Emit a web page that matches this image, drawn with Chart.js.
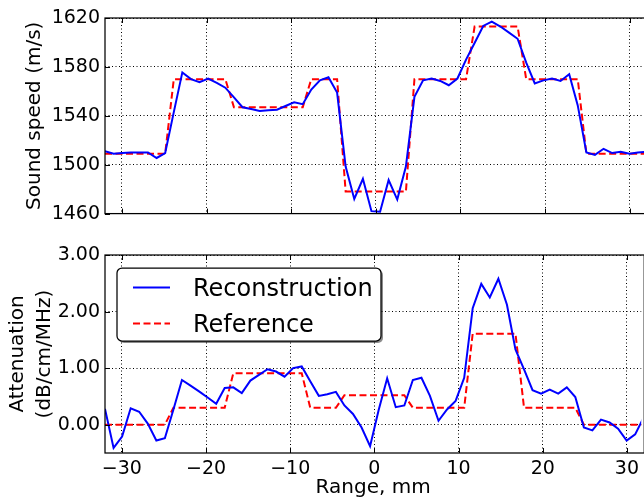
<!DOCTYPE html>
<html>
<head>
<title>Sound speed and attenuation</title>
<script src="https://cdn.jsdelivr.net/npm/chart.js"></script>
<style>
body { margin: 0; background: #fff; }
.panel { position: absolute; left: 0; }
#top { top: 0; }
#bottom { top: 230px; }
</style>
</head>
<body>
<div class="panel" id="top"><canvas id="speedChart" width="644" height="230"></canvas></div>
<div class="panel" id="bottom"><canvas id="attenChart" width="644" height="270"></canvas></div>

<script>
// range samples (mm), 64 points across the aperture
var rangeMm = [-32.00, -30.98, -29.97, -28.95, -27.94, -26.92, -25.90, -24.89,
    -23.87, -22.86, -21.84, -20.83, -19.81, -18.79, -17.78, -16.76,
    -15.75, -14.73, -13.71, -12.70, -11.68, -10.67, -9.65, -8.63,
    -7.62, -6.60, -5.59, -4.57, -3.56, -2.54, -1.52, -0.51,
    0.51, 1.52, 2.54, 3.56, 4.57, 5.59, 6.60, 7.62,
    8.63, 9.65, 10.67, 11.68, 12.70, 13.71, 14.73, 15.75,
    16.76, 17.78, 18.79, 19.81, 20.83, 21.84, 22.86, 23.87,
    24.89, 25.90, 26.92, 27.94, 28.95, 29.97, 30.98, 32.00];

var speedRecon = [1511, 1509, 1509.5, 1510, 1510, 1510, 1505.5, 1509.5,
    1543, 1575.5, 1570, 1567.5, 1570.5, 1567, 1563, 1555,
    1547, 1545.5, 1544, 1544.5, 1545, 1548, 1551, 1549.5,
    1561.5, 1569, 1571.5, 1559, 1498.5, 1472, 1488.5, 1462,
    1461.5, 1487.5, 1471.5, 1498.5, 1555.5, 1569, 1570.5, 1568.5,
    1565, 1570.5, 1586, 1599.5, 1613.5, 1617, 1613, 1608,
    1603, 1583.5, 1566.5, 1569, 1570.5, 1568.5, 1574, 1548.5,
    1510, 1508, 1513, 1509.5, 1510.5, 1509, 1510, 1510.5];

var speedRef = [1509, 1509, 1509, 1509, 1509, 1509, 1509, 1509,
    1570, 1570, 1570, 1570, 1570, 1570, 1570, 1547,
    1547, 1547, 1547, 1547, 1547, 1547, 1547, 1547,
    1570, 1570, 1570, 1570, 1478, 1478, 1478, 1478,
    1478, 1478, 1478, 1478, 1570, 1570, 1570, 1570,
    1570, 1570, 1570, 1613, 1613, 1613, 1613, 1613,
    1613, 1570, 1570, 1570, 1570, 1570, 1570, 1570,
    1509, 1509, 1509, 1509, 1509, 1509, 1509, 1509];

var attenRecon = [0.28, -0.41, -0.21, 0.29, 0.23, 0.02, -0.28, -0.24,
    0.27, 0.79, 0.69, 0.59, 0.48, 0.37, 0.65, 0.66,
    0.56, 0.78, 0.88, 0.98, 0.94, 0.85, 1.00, 1.03,
    0.77, 0.51, 0.54, 0.58, 0.34, 0.19, -0.05, -0.38,
    0.26, 0.82, 0.31, 0.34, 0.79, 0.83, 0.51, 0.07,
    0.27, 0.42, 0.83, 2.06, 2.49, 2.25, 2.58, 2.12,
    1.33, 0.98, 0.61, 0.55, 0.62, 0.55, 0.66, 0.49,
    -0.05, -0.10, 0.09, 0.04, -0.07, -0.28, -0.17, 0.13];

var attenRef = [0, 0, 0, 0, 0, 0, 0, 0,
    0.30, 0.30, 0.30, 0.30, 0.30, 0.30, 0.30, 0.91,
    0.91, 0.91, 0.91, 0.91, 0.91, 0.91, 0.91, 0.91,
    0.30, 0.30, 0.30, 0.30, 0.52, 0.52, 0.52, 0.52,
    0.52, 0.52, 0.52, 0.52, 0.30, 0.30, 0.30, 0.30,
    0.30, 0.30, 0.30, 1.61, 1.61, 1.61, 1.61, 1.61,
    1.61, 0.30, 0.30, 0.30, 0.30, 0.30, 0.30, 0.30,
    0, 0, 0, 0, 0, 0, 0, 0];

var xTicks = [-30, -20, -10, 0, 10, 20, 30];
var speedTicks = [1460, 1500, 1540, 1580, 1620];
var attenTicks = [0, 1, 2, 3];
var seriesNames = ['Reconstruction', 'Reference'];

var FONT = 'DejaVu Sans';

function points(ys) {
    return rangeMm.map(function (x, i) { return { x: x, y: ys[i] }; });
}

function minus(v) {
    return v < 0 ? '\u2212' + Math.abs(v) : String(v);
}

// black box round the plot plus inward tick marks, like matplotlib
var framePlugin = {
    id: 'frame',
    afterDatasetsDraw: function (chart) {
        var a = chart.chartArea, ctx = chart.ctx;
        var sx = chart.scales.x, sy = chart.scales.y;
        ctx.save();
        ctx.strokeStyle = '#000';
        ctx.lineWidth = 1;
        ctx.beginPath();
        sx.ticks.forEach(function (t) {
            var px = Math.round(sx.getPixelForValue(t.value)) + 0.5;
            ctx.moveTo(px, a.bottom); ctx.lineTo(px, a.bottom - 5);
            ctx.moveTo(px, a.top); ctx.lineTo(px, a.top + 5);
        });
        sy.ticks.forEach(function (t) {
            var py = Math.round(sy.getPixelForValue(t.value)) + 0.5;
            ctx.moveTo(a.left, py); ctx.lineTo(a.left + 5, py);
        });
        ctx.stroke();
        ctx.lineWidth = 1.25;
        ctx.strokeRect(a.left, a.top, a.right - a.left + 3, a.bottom - a.top);
        ctx.restore();
    }
};

var legendPlugin = {
    id: 'boxLegend',
    afterDraw: function (chart) {
        var ctx = chart.ctx;
        var l = 117, t = 38, w = 264, h = 73, r = 5;
        function box(x, y) {
            ctx.beginPath();
            ctx.roundRect(x, y, w, h, r);
        }
        ctx.save();
        box(l + 2, t + 2);
        ctx.fillStyle = 'rgba(0,0,0,0.45)';
        ctx.fill();
        box(l, t);
        ctx.fillStyle = '#fff';
        ctx.fill();
        ctx.lineWidth = 1.25;
        ctx.strokeStyle = '#000';
        ctx.stroke();

        ctx.lineWidth = 2;
        ctx.strokeStyle = '#0000ff';
        ctx.beginPath(); ctx.moveTo(133, 57.5); ctx.lineTo(170, 57.5); ctx.stroke();
        ctx.strokeStyle = '#ff0000';
        ctx.setLineDash([7, 3.5]);
        ctx.beginPath(); ctx.moveTo(133, 93.5); ctx.lineTo(170, 93.5); ctx.stroke();
        ctx.setLineDash([]);

        ctx.fillStyle = '#000';
        ctx.font = '24px "' + FONT + '"';
        ctx.textBaseline = 'alphabetic';
        ctx.fillText(seriesNames[0], 193, 66);
        ctx.fillText(seriesNames[1], 193, 101.5);
        ctx.restore();
    }
};

function makeOptions(cfg) {
    return {
        responsive: false,
        animation: false,
        layout: { padding: { top: cfg.padTop, left: 0, right: 0, bottom: 0 } },
        plugins: { legend: { display: false }, tooltip: { enabled: false } },
        scales: {
            x: {
                type: 'linear',
                min: -32,
                max: 31.7,
                afterBuildTicks: function (s) { s.ticks = xTicks.map(function (v) { return { value: v }; }); },
                afterFit: function (s) { s.height = cfg.xHeight; },
                grid: { color: '#000', lineWidth: 1, drawTicks: false },
                border: { display: false, dash: [1, 2.5] },
                ticks: {
                    display: cfg.showX,
                    padding: 5,
                    color: '#000',
                    font: { family: FONT, size: 19 },
                    callback: function (v) { return minus(v); }
                },
                title: {
                    display: cfg.showX,
                    text: 'Range, mm',
                    color: '#000',
                    font: { family: FONT, size: 20, lineHeight: 1.2 },
                    padding: { top: 0, bottom: 0 }
                }
            },
            y: {
                min: cfg.yMin,
                max: cfg.yMax,
                afterBuildTicks: function (s) { s.ticks = cfg.yTicks.map(function (v) { return { value: v }; }); },
                afterFit: function (s) { s.width = 105; },
                grid: { color: '#000', lineWidth: 1, drawTicks: false },
                border: { display: false, dash: [1, 2.5] },
                ticks: {
                    padding: 5,
                    color: '#000',
                    font: { family: FONT, size: 19 },
                    callback: cfg.yFormat
                },
                title: {
                    display: true,
                    text: cfg.yTitle,
                    color: '#000',
                    font: { family: FONT, size: 20, lineHeight: cfg.titleLine },
                    padding: { top: cfg.titlePad, bottom: 0 }
                }
            }
        }
    };
}

function datasets(recon, ref) {
    return [{
        label: seriesNames[0],
        data: points(recon),
        borderColor: '#0000ff',
        borderWidth: 2,
        pointRadius: 0,
        tension: 0
    }, {
        label: seriesNames[1],
        data: points(ref),
        borderColor: '#ff0000',
        borderWidth: 2,
        borderDash: [7, 3.5],
        pointRadius: 0,
        tension: 0
    }];
}

new Chart(document.getElementById('speedChart'), {
    type: 'line',
    data: { datasets: datasets(speedRecon, speedRef) },
    options: makeOptions({
        padTop: 18, xHeight: 14, showX: false,
        yMin: 1460, yMax: 1620, yTicks: speedTicks,
        yFormat: function (v) { return String(v); },
        yTitle: 'Sound speed (m/s)', titleLine: 1.2, titlePad: 23
    }),
    plugins: [framePlugin]
});

new Chart(document.getElementById('attenChart'), {
    type: 'line',
    data: { datasets: datasets(attenRecon, attenRef) },
    options: makeOptions({
        padTop: 25, xHeight: 47, showX: true,
        yMin: -0.5, yMax: 3, yTicks: attenTicks,
        yFormat: function (v) { return v.toFixed(2); },
        yTitle: ['Attenuation', '(dB/cm/MHz)'], titleLine: 1.35, titlePad: 4.5
    }),
    plugins: [framePlugin, legendPlugin]
});
</script>
</body>
</html>
